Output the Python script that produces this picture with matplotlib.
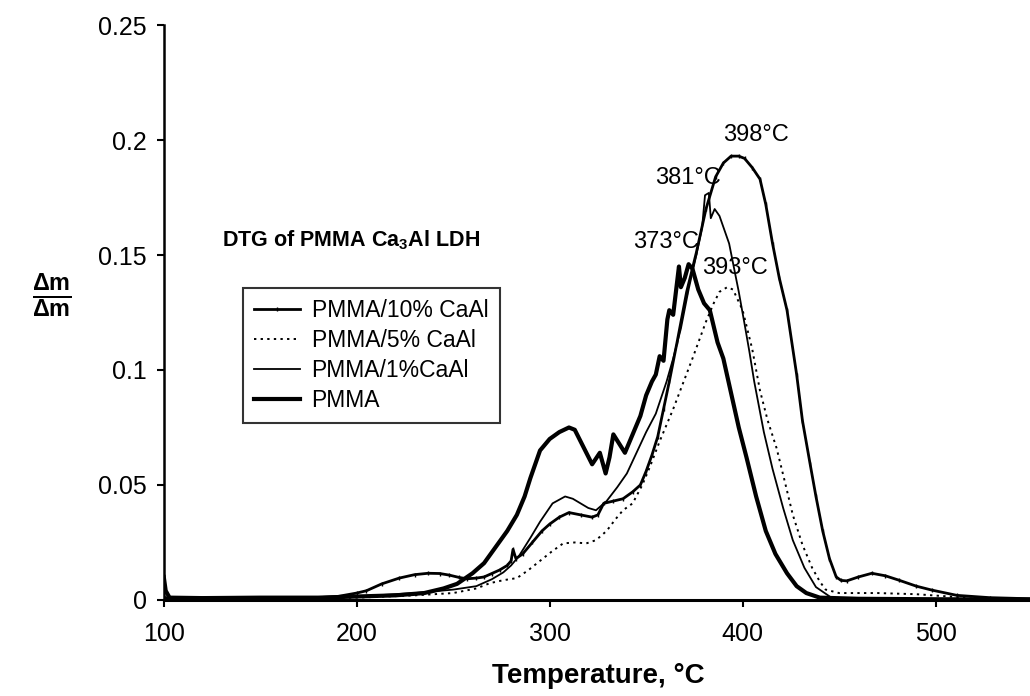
import numpy as np
import matplotlib
matplotlib.use("Agg")
import matplotlib.pyplot as plt

plt.rcParams["font.family"] = ["Liberation Sans", "DejaVu Sans"]
plt.rcParams["mathtext.fontset"] = "custom"
plt.rcParams["mathtext.rm"] = "Liberation Sans"
plt.rcParams["mathtext.bf"] = "Liberation Sans:bold"

# (temperature in C, dm/dm)
pmma = [(100, 0.010), (101, 0.004), (103, 0.001), (120, 0.0008), (150, 0.001),
        (180, 0.001), (200, 0.0015), (220, 0.002), (235, 0.003), (245, 0.005),
        (252, 0.007), (260, 0.0116), (266, 0.016), (272, 0.023), (278, 0.030),
        (283, 0.037), (287, 0.045), (290, 0.053), (295, 0.065), (300, 0.070),
        (305, 0.073), (310, 0.075), (313, 0.074), (316, 0.069), (319, 0.064),
        (322, 0.059), (326, 0.064), (329, 0.055), (331, 0.062), (333, 0.072),
        (336, 0.068), (339, 0.064), (343, 0.072), (347, 0.080), (350, 0.089),
        (353, 0.095), (355, 0.098), (357, 0.106), (359, 0.104), (361, 0.122),
        (362, 0.126), (364, 0.124), (366, 0.138), (367, 0.145), (368, 0.136),
        (370, 0.140), (372, 0.146), (374, 0.144), (377, 0.135), (380, 0.129),
        (383, 0.126), (387, 0.112), (390, 0.105), (394, 0.090), (398, 0.075),
        (402, 0.062), (407, 0.045), (412, 0.030), (417, 0.020), (423, 0.0116),
        (428, 0.006), (433, 0.003), (440, 0.001), (460, 0.0005), (500, 0.0003),
        (550, 0.0002)]

pmma_10 = [(100, 0.001), (150, 0.0008), (180, 0.001), (190, 0.0015), (200, 0.003),
           (205, 0.004), (213, 0.007), (222, 0.0095), (230, 0.011), (237, 0.0116),
           (243, 0.0115), (248, 0.0108), (253, 0.0098), (257, 0.0092), (262, 0.0095),
           (266, 0.010), (270, 0.0115), (274, 0.013), (278, 0.015), (280, 0.017),
           (281, 0.022), (282.5, 0.018), (286, 0.020), (291, 0.025), (296, 0.030),
           (300, 0.033), (305, 0.036), (310, 0.038), (316, 0.037), (322, 0.036),
           (325, 0.037), (328, 0.042), (333, 0.043), (338, 0.044), (343, 0.047),
           (347, 0.050), (350, 0.056), (353, 0.063), (356, 0.071), (359, 0.083),
           (362, 0.095), (366, 0.112), (371, 0.134), (376, 0.151), (381, 0.170),
           (386, 0.184), (390, 0.190), (394, 0.193), (398, 0.193), (401, 0.192),
           (405, 0.188), (409, 0.183), (412, 0.172), (415.5, 0.155), (419, 0.140),
           (423, 0.126), (428, 0.098), (431, 0.078), (435, 0.059), (438, 0.045),
           (441.5, 0.030), (445, 0.018), (448.5, 0.010), (451, 0.0085), (454, 0.0083),
           (460, 0.010), (467, 0.0116), (474, 0.0105), (481, 0.0086), (490, 0.006),
           (498, 0.0043), (511, 0.002), (528, 0.001), (550, 0.0005)]

pmma_5 = [(100, 0.0005), (150, 0.0005), (200, 0.001), (230, 0.002), (250, 0.003),
          (262, 0.005), (269, 0.0073), (276, 0.0086), (283, 0.0095), (289, 0.013),
          (295, 0.017), (301, 0.021), (307, 0.0246), (313, 0.025), (319, 0.0246),
          (324, 0.026), (329.5, 0.030), (334, 0.035), (338, 0.039), (343, 0.042),
          (348, 0.050), (352, 0.058), (357, 0.069), (364, 0.083), (369, 0.094),
          (374, 0.105), (381, 0.121), (385, 0.129), (388, 0.134), (392, 0.136),
          (395, 0.135), (400, 0.126), (405, 0.109), (409, 0.091), (413, 0.078),
          (417.6, 0.066), (422, 0.051), (426, 0.037), (431, 0.024), (436, 0.014),
          (440, 0.008), (443, 0.0045), (450, 0.003), (470, 0.003), (490, 0.0025),
          (507, 0.0015), (520, 0.0005), (550, 0.0002)]

pmma_1 = [(100, 0.0005), (150, 0.0005), (200, 0.0015), (230, 0.003), (250, 0.0045),
          (262, 0.006), (270, 0.009), (276, 0.012), (280, 0.015), (284, 0.019),
          (290, 0.027), (295, 0.034), (301.5, 0.042), (308, 0.045), (312, 0.044),
          (316, 0.042), (320, 0.040), (324, 0.039), (329.5, 0.043), (335, 0.049),
          (340, 0.055), (345, 0.064), (350, 0.073), (355, 0.081), (357, 0.086),
          (360.6, 0.095), (364, 0.105), (368, 0.118), (372, 0.135), (376, 0.150),
          (379, 0.162), (380.5, 0.176), (382.5, 0.177), (383.5, 0.166), (385.5, 0.170),
          (388, 0.167), (393, 0.155), (398, 0.134), (401, 0.120), (403.5, 0.108),
          (406, 0.095), (411, 0.073), (415.5, 0.057), (421, 0.040), (426, 0.026),
          (432, 0.014), (438, 0.0056), (446, 0.001), (460, 0.0005), (550, 0.0002)]

peak_labels = ["398°C", "381°C", "373°C", "393°C"]
peak_pos = [(407, 0.202), (371.5, 0.1835), (360.5, 0.1557), (396, 0.1443)]

fig = plt.figure(figsize=(10.30, 6.96), dpi=100)
ax = fig.add_axes([0.159, 0.138, 0.843, 0.826])

t, v = np.array(pmma_10).T
ax.plot(t, v, color="black", lw=2.0, marker="|", ms=3, mew=1,
        markevery=1, label="PMMA/10% CaAl")
t, v = np.array(pmma_5).T
ax.plot(t, v, color="black", lw=1.4, ls=(0, (1.2, 2.2)), label="PMMA/5% CaAl")
t, v = np.array(pmma_1).T
ax.plot(t, v, color="black", lw=1.3, label="PMMA/1%CaAl")
t, v = np.array(pmma).T
ax.plot(t, v, color="black", lw=3.0, label="PMMA")

for lab, (x, y) in zip(peak_labels, peak_pos):
    ax.text(x, y, lab, fontsize=17, ha="center", va="center")

ax.text(130, 0.1565, r"DTG of PMMA Ca$_\mathbf{3}$Al LDH", fontsize=15.5,
        fontweight="bold", va="center")

ax.set_xlim(100, 550)
ax.set_ylim(0, 0.25)
ax.set_xticks([100, 200, 300, 400, 500])
ax.set_yticks([0, 0.05, 0.1, 0.15, 0.2, 0.25])
ax.set_yticklabels(["0", "0.05", "0.1", "0.15", "0.2", "0.25"])
ax.tick_params(labelsize=18, length=5, width=1.5, direction="out", color="black")
ax.tick_params(axis="x", pad=11)
ax.tick_params(axis="y", pad=7)
ax.spines["top"].set_visible(False)
ax.spines["right"].set_visible(False)
ax.spines["left"].set_linewidth(1.8)
ax.spines["bottom"].set_linewidth(2.2)

ax.set_xlabel("Temperature, °C", fontsize=20, fontweight="bold", labelpad=12)
fig.text(0.05, 0.575, r"$\mathbf{\frac{\Delta m}{\Delta m}}$", fontsize=24,
         ha="center", va="center")

leg = ax.legend(loc="upper left", bbox_to_anchor=(0.091, 0.543), borderaxespad=0,
                fontsize=16.5, frameon=True, fancybox=False, edgecolor="black",
                handlelength=2.0, handletextpad=0.5, labelspacing=0.3,
                borderpad=0.5)
leg.get_frame().set_linewidth(1.5)

fig.savefig("out.png", dpi=100)
